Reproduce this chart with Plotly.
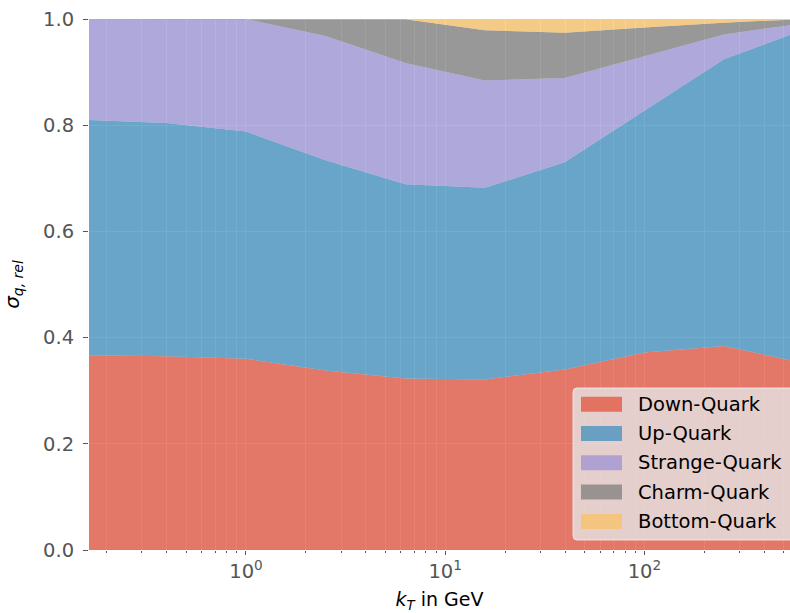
import plotly.graph_objects as go

# ---- data ----
kt = [0.158, 0.398, 1.0, 2.51, 6.31, 15.8, 39.8, 100.0, 251.0, 631.0]
down = [0.367, 0.365, 0.360, 0.338, 0.323, 0.321, 0.340, 0.372, 0.384, 0.352]
up = [0.443, 0.439, 0.428, 0.396, 0.366, 0.361, 0.390, 0.455, 0.540, 0.628]
strange = [0.190, 0.196, 0.212, 0.234, 0.228, 0.202, 0.159, 0.103, 0.047, 0.012]
charm = [0.0, 0.0, 0.0, 0.032, 0.0825, 0.095, 0.085, 0.054, 0.022, 0.008]
bottom = [0.0, 0.0, 0.0, 0.0, 0.0005, 0.021, 0.026, 0.016, 0.007, 0.0]

series_names = ["Down-Quark", "Up-Quark", "Strange-Quark", "Charm-Quark", "Bottom-Quark"]
series_values = [down, up, strange, charm, bottom]
series_colors = ["rgba(226,74,51,0.7)", "rgba(52,138,189,0.7)", "rgba(152,142,213,0.7)",
                 "rgba(119,119,119,0.7)", "rgba(251,193,94,0.7)"]

y_ticks = [0.0, 0.2, 0.4, 0.6, 0.8, 1.0]
x_major = [1, 10, 100]
x_major_text = ["10<sup>0</sup>", "10<sup>1</sup>", "10<sup>2</sup>"]
x_minor = [m * 10 ** d for d in range(-1, 3) for m in range(2, 10)]

FONT = "DejaVu Sans"
W, H = 790, 613
ML, MR, MT, MB = 89, 0, 19, 63
PW, PH = W - ML - MR, H - MT - MB


def px(x):
    return (x - ML) / PW


def py(y):
    return (H - MB - y) / PH


fig = go.Figure()
for name, vals, col in zip(series_names, series_values, series_colors):
    fig.add_trace(go.Scatter(
        x=kt, y=vals, name=name, mode="lines",
        stackgroup="one", line=dict(width=0, color=col), fillcolor=col,
        showlegend=False,
    ))

# ---- legend drawn in the lower right (matplotlib-like boxes) ----
shapes = []
annotations = []
bx0, bx1, by0, by1, r = 573, 805, 388, 540, 4
path = (f"M {px(bx0 + r)},{py(by0)} L {px(bx1 - r)},{py(by0)} "
        f"Q {px(bx1)},{py(by0)} {px(bx1)},{py(by0 + r)} L {px(bx1)},{py(by1 - r)} "
        f"Q {px(bx1)},{py(by1)} {px(bx1 - r)},{py(by1)} L {px(bx0 + r)},{py(by1)} "
        f"Q {px(bx0)},{py(by1)} {px(bx0)},{py(by1 - r)} L {px(bx0)},{py(by0 + r)} "
        f"Q {px(bx0)},{py(by0)} {px(bx0 + r)},{py(by0)} Z")
shapes.append(dict(type="path", xref="paper", yref="paper", path=path,
                   fillcolor="rgba(229,229,229,0.8)",
                   line=dict(color="rgba(240,240,240,0.8)", width=1), layer="above"))
for i, (name, col) in enumerate(zip(series_names, series_colors)):
    cy = 404.2 + 29.3 * i
    shapes.append(dict(type="rect", xref="paper", yref="paper",
                       x0=px(581), x1=px(622), y0=py(cy - 7.5), y1=py(cy + 7.5),
                       fillcolor=col, line=dict(width=0), layer="above"))
    annotations.append(dict(xref="paper", yref="paper", x=px(636), y=py(cy),
                            xanchor="left", yanchor="middle", showarrow=False,
                            text=name, font=dict(family=FONT, size=19.5, color="black")))

fig.update_layout(
    width=W, height=H, autosize=False,
    margin=dict(l=ML, r=MR, t=MT, b=MB, pad=0),
    paper_bgcolor="white", plot_bgcolor="#E5E5E5",
    font=dict(family=FONT, size=19.5, color="#555555"),
    showlegend=False,
    shapes=shapes, annotations=annotations,
    xaxis=dict(
        type="log", range=[-0.788, 2.731], automargin=False,
        tickvals=x_major, ticktext=x_major_text,
        ticks="outside", ticklen=4, tickwidth=1, tickcolor="#555555",
        showgrid=True, gridcolor="white", gridwidth=1,
        minor=dict(tickvals=x_minor, ticks="outside", ticklen=2, tickwidth=1,
                   tickcolor="#555555", showgrid=True, gridcolor="white", gridwidth=1),
        zeroline=False, showline=False,
        tickfont=dict(family=FONT, size=19.5, color="#555555"),
        title=dict(text="<i>k</i><sub><i>T</i></sub> in GeV",
                   font=dict(family=FONT, size=19, color="black"), standoff=24),
    ),
    yaxis=dict(
        range=[0, 1], automargin=False, tickvals=y_ticks, ticktext=[f"{v:.1f}" for v in y_ticks],
        ticks="outside", ticklen=5, tickwidth=1, tickcolor="#555555",
        showgrid=True, gridcolor="white", gridwidth=1,
        zeroline=False, showline=False, ticklabelstandoff=5,
        tickfont=dict(family=FONT, size=19.5, color="#555555"),
        title=dict(text="<i>σ</i><sub><i>q, rel</i></sub>",
                   font=dict(family=FONT, size=20, color="black"), standoff=18),
    ),
)

fig.write_html("out.html")
